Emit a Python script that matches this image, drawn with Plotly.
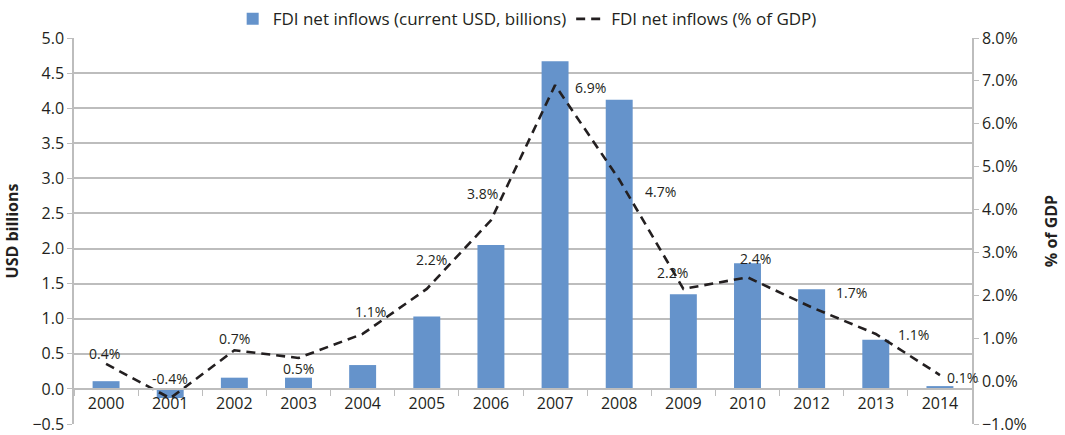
import plotly.graph_objects as go

years = ["2000", "2001", "2002", "2003", "2004", "2005", "2006", "2007",
         "2008", "2009", "2010", "2012", "2013", "2014"]
fdi_usd_bn = [0.11, -0.13, 0.16, 0.16, 0.34, 1.03, 2.05, 4.67,
              4.12, 1.35, 1.79, 1.42, 0.70, 0.04]
fdi_pct_gdp = [0.4, -0.4, 0.72, 0.54, 1.1, 2.15, 3.75, 6.9,
               4.7, 2.15, 2.42, 1.72, 1.1, 0.14]
pct_labels = ["0.4%", "-0.4%", "0.7%", "0.5%", "1.1%", "2.2%", "3.8%", "6.9%",
              "4.7%", "2.2%", "2.4%", "1.7%", "1.1%", "0.1%"]
# label offsets in pixels (style only)
label_dx = [-2, 0, 0, 0, 8, 5, -8, 35, 41, -11, 8, 40, 38, 23]
label_dy = [10, 20, 12, -11, 22, 29, 27, -2, -12, 16, 19, 15, -1, -2]

FONT = "Open Sans"
TXT = "#231f20"
GRID = "#bdbdbd"

fig = go.Figure()
fig.add_trace(go.Bar(
    x=years, y=fdi_usd_bn, name="FDI net inflows (current USD, billions)",
    marker=dict(color="#6593cb", line=dict(width=0)), width=0.42,
))
fig.add_trace(go.Scatter(
    x=years, y=fdi_pct_gdp, name="FDI net inflows (% of GDP)", yaxis="y2",
    mode="lines", line=dict(color="#231f20", width=2.6, dash="9px,6px"),
))

for i, (v, t, dx, dy) in enumerate(zip(fdi_pct_gdp, pct_labels, label_dx, label_dy)):
    fig.add_annotation(x=i, y=v, xref="x", yref="y2", text=t, showarrow=False,
                       xshift=dx, yshift=dy,
                       font=dict(family=FONT, size=14, color=TXT))

fig.update_layout(
    width=1065, height=435,
    margin=dict(l=74, r=93, t=38, b=11, autoexpand=False),
    paper_bgcolor="white", plot_bgcolor="white",
    font=dict(family=FONT, size=16, color=TXT),
    showlegend=True,
    legend=dict(orientation="h", x=0.495, xanchor="center", xref="container",
                y=0.997, yanchor="top", yref="container",
                font=dict(family=FONT, size=17, color=TXT), bgcolor="rgba(0,0,0,0)",
                traceorder="normal"),
    xaxis=dict(
        type="category", anchor="free", position=0.5/5.5, automargin=False,
        range=[-0.5, len(years) - 0.5],
        showline=True, linecolor=GRID, linewidth=1.5,
        ticks="outside", tickson="boundaries", ticklen=6, tickcolor=GRID,
        showgrid=False, tickfont=dict(family=FONT, size=16, color=TXT),
    ),
    yaxis=dict(
        range=[-0.5, 5.0], dtick=0.5, tick0=0, tickformat=".1f", automargin=False,
        showline=True, linecolor=GRID, linewidth=1.5,
        ticks="outside", ticklen=5, tickcolor=GRID,
        showgrid=True, gridcolor=GRID, gridwidth=1.5, zeroline=False,
        title=dict(text="<b>USD billions</b>", font=dict(family=FONT, size=16, color=TXT), standoff=10),
        tickfont=dict(family=FONT, size=16, color=TXT),
    ),
    yaxis2=dict(
        range=[-1.0, 8.0], dtick=1, tick0=0, tickformat=".1f", ticksuffix="%",
        overlaying="y", side="right", automargin=False,
        showline=True, linecolor=GRID, linewidth=1.5,
        ticks="outside", ticklen=5, tickcolor=GRID,
        showgrid=False, zeroline=False,
        title=dict(text="<b>% of GDP</b>", font=dict(family=FONT, size=16, color=TXT), standoff=20),
        tickfont=dict(family=FONT, size=16, color=TXT),
    ),
)

fig.write_html("out.html")
